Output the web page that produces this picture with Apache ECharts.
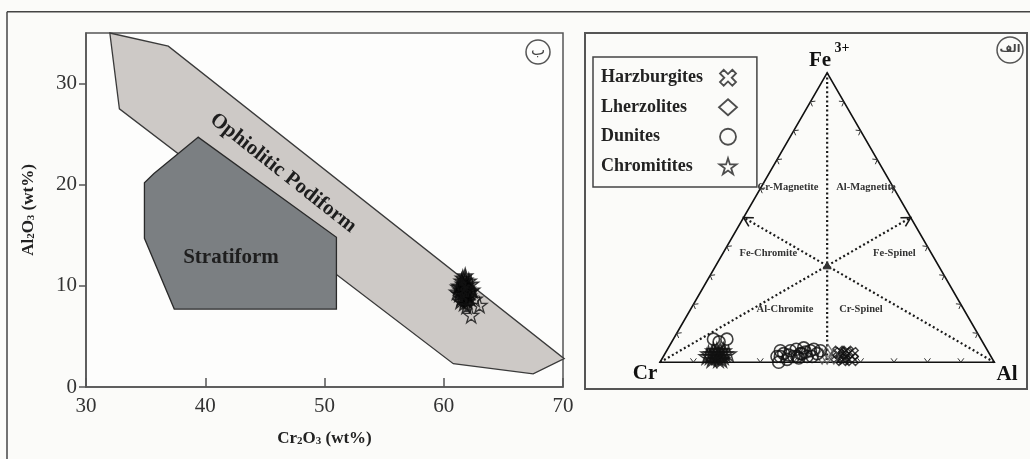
<!DOCTYPE html>
<html><head><meta charset="utf-8">
<script src="https://cdn.jsdelivr.net/npm/echarts@6/dist/echarts.min.js"></script>
<style>html,body{margin:0;padding:0;background:#fbfbf9}#c{width:1030px;height:459px}</style>
</head><body><div id="c"></div>
<script>
// ---------- DATA ----------
const xTicks = [30, 40, 50, 60, 70];
const yTicks = [0, 10, 20, 30];
// discrimination fields, Cr2O3 (wt%), Al2O3 (wt%)
const podiformPolygon = [[32, 35], [36.9, 33.7], [70.1, 2.8], [67.5, 1.3], [60.8, 2.3], [32.8, 27.5]];
const stratiformPolygon = [[39.4, 24.7], [35.7, 21.1], [34.9, 20.2], [34.9, 14.7], [37.4, 7.7], [51, 7.7], [51, 14.8]];
// chromitites, Cr2O3 vs Al2O3
const chromititesOxide = [
  [61.5,10.5],[61.8,10.6],[61.6,10.2],[61.9,10.1],[61.3,10.0],[61.7,9.8],[62.0,9.7],[61.4,9.6],
  [61.6,9.4],[61.9,9.3],[61.3,9.2],[61.7,9.0],[62.1,9.0],[61.5,8.8],[61.8,8.7],[61.4,8.5],
  [62.0,8.5],[61.7,8.3],[62.2,9.4],[61.6,10.8],[61.8,11.0],[61.2,9.9],[61.9,8.0],
  [62.3,10.2],[62.4,9.6],[62.2,8.8],[61.1,9.4],[62.1,10.5]
];
const chromititesOxideOutliers = [[63.0,8.1],[62.3,7.1],[62.6,8.7]];
// ternary Cr - Al - Fe3+ (percent: [Cr, Al, Fe3+])
const chromititesTernary = [
  [84,14,2],[83,15,2],[82,16,2],[81,17,2],[80,18,2],[82,15,3],[81,16,3],[80,17,3],[83,14,3],
  [84,13,3],[79,18,3],[82,14,4],[81,15,4],[80,16,4],[79,17,4],[85,13,2],[78,19,3],[82,17,1],
  [81,18,1],[84,15,1]
];
const dunitesTernary = [
  [80,12,8],[76,16,8],[78,14,7],
  [64,34,2],[62,34,4],[61.5,35.5,3],[61.5,37.5,1],[59,37,4],[59,39,2],[57,38.5,4.5],[56.5,40.5,3],
  [54.5,40.5,5],[55,43,2],[53,43,4],[51.75,43.75,4.5],[51.5,45.5,3],[64.5,35.5,0],[60.25,37.25,2.5],
  [57.75,40.75,1.5],[54.75,41.75,3.5],[53.5,44.5,2],[50,46,4],[63,35,2],[58,40,2],[56,41,3]
];
const lherzolitesTernary = [[49,49,2],[48,48.5,3.5],[50.5,47.5,2],[47,51,2]];
const harzburgitesTernary = [
  [46,52,2],[44.5,52.5,3],[44.25,54.25,1.5],[42.25,54.25,3.5],[42.5,55.5,2],[41,56,3],[45,54,1],[44.75,51.75,3.5],
  [43.5,54,2.5],[42,57,1]
];
const ternaryTicks = [10, 20, 30, 40, 60, 70, 80, 90];
const regionNames = ['Cr-Magnetite', 'Al-Magnetite', 'Fe-Chromite', 'Fe-Spinel', 'Al-Chromite', 'Cr-Spinel'];
const legendNames = ['Harzburgites', 'Lherzolites', 'Dunites', 'Chromitites'];

// ---------- HELPERS ----------
const H = Math.sqrt(3) / 2;
function tern(v) {
  const s = v[0] + v[1] + v[2];
  const a = v[1] / s, f = v[2] / s;
  return [a + f / 2, f * H];
}
const regionPos = [[0.383, 0.524], [0.616, 0.524], [0.324, 0.327], [0.701, 0.327], [0.374, 0.160], [0.601, 0.160]];

const serif = '"Liberation Serif","Times New Roman",serif';
const crossPath = 'path://M7.475,0.404L9.596,2.525L7.121,5L9.596,7.475L7.475,9.596L5,7.121L2.525,9.596L0.404,7.475L2.879,5L0.404,2.525L2.525,0.404L5,2.879Z';
const starPath = 'path://M50,0L61,35L98,35L68,57L79,91L50,70L21,91L32,57L2,35L39,35Z';

const chart = echarts.init(document.getElementById('c'));

function ternaryFrame(params, api) {
  const P = (x, y) => api.coord([x, y]);
  const A = P(0, 0), B = P(1, 0), C = P(0.5, H);
  const mB = P(0.5, 0), mL = P(0.25, H / 2), mR = P(0.75, H / 2), G = P(0.5, H / 3);
  const children = [];
  const dot = { stroke: '#1a1a1a', lineWidth: 2.2, lineDash: [2, 2.6], fill: null };
  children.push({ type: 'line', shape: { x1: C[0], y1: C[1], x2: mB[0], y2: mB[1] }, style: dot });
  children.push({ type: 'line', shape: { x1: A[0], y1: A[1], x2: mR[0], y2: mR[1] }, style: dot });
  children.push({ type: 'line', shape: { x1: B[0], y1: B[1], x2: mL[0], y2: mL[1] }, style: dot });
  function arrow(from, tip) {
    let dx = tip[0] - from[0], dy = tip[1] - from[1];
    const L = Math.hypot(dx, dy); dx /= L; dy /= L;
    const nx = -dy, ny = dx;
    return { type: 'polyline', shape: { points: [[tip[0] - 9 * dx + 5 * nx, tip[1] - 9 * dy + 5 * ny], tip, [tip[0] - 9 * dx - 5 * nx, tip[1] - 9 * dy - 5 * ny]] },
      style: { stroke: '#1a1a1a', lineWidth: 1.6, fill: null } };
  }
  children.push(arrow(A, mR));
  children.push(arrow(B, mL));
  children.push({ type: 'polygon', shape: { points: [[G[0], G[1] - 4], [G[0] - 4, G[1] + 3], [G[0] + 4, G[1] + 3]] }, style: { fill: '#333', stroke: '#333' } });
  children.push({ type: 'polygon', shape: { points: [A, B, C] }, style: { fill: null, stroke: '#111', lineWidth: 1.6 } });
  const sides = [[A, B, C], [A, C, B], [B, C, A]];
  sides.forEach(([p, q, o]) => {
    ternaryTicks.forEach(t => {
      const f = t / 100;
      const x = p[0] + (q[0] - p[0]) * f, y = p[1] + (q[1] - p[1]) * f;
      let ux = q[0] - p[0], uy = q[1] - p[1]; const L = Math.hypot(ux, uy); ux /= L; uy /= L;
      let nx = -uy, ny = ux;
      const cx = (p[0] + q[0] + o[0]) / 3, cy = (p[1] + q[1] + o[1]) / 3;
      if ((cx - x) * nx + (cy - y) * ny < 0) { nx = -nx; ny = -ny; }
      children.push({ type: 'polyline', shape: { points: [[x - 3 * ux + 4 * nx, y - 3 * uy + 4 * ny], [x, y], [x + 3 * ux + 4 * nx, y + 3 * uy + 4 * ny]] },
        style: { stroke: '#333', lineWidth: 1, fill: null } });
    });
  });
  regionNames.forEach((n, i) => {
    const p = P(regionPos[i][0], regionPos[i][1]);
    children.push({ type: 'text', x: p[0], y: p[1], style: { text: n, fill: '#333', fontFamily: serif, fontWeight: 'bold', fontSize: 10.5, align: 'center', verticalAlign: 'middle' } });
  });
  return { type: 'group', children };
}

const subRich = { a: { fontFamily: serif, fontWeight: 'bold', fontSize: 17, color: '#222', lineHeight: 18, verticalAlign: 'bottom' }, s: { fontFamily: serif, fontWeight: 'bold', fontSize: 11, color: '#222', lineHeight: 12, verticalAlign: 'bottom' } };

const option = {
  backgroundColor: '#fbfbf9',
  animation: false,
  grid: [
    { left: 86, top: 33, width: 477, height: 354, show: true, borderColor: '#555', borderWidth: 1.5, backgroundColor: '#fdfdfc', containLabel: false, outerBoundsMode: 'none' },
    { left: 660, top: 72.8, width: 334.3, height: 289.5, show: false, containLabel: false, outerBoundsMode: 'none' }
  ],
  xAxis: [
    { gridIndex: 0, type: 'value', min: 30, max: 70, interval: 10,
      name: '{a|Cr}{s|2}{a|O}{s|3}{a| (wt%)}', nameLocation: 'middle', nameGap: 42, nameTextStyle: { rich: subRich },
      axisLine: { lineStyle: { color: '#555', width: 1.5 } },
      axisTick: { inside: true, length: 9, lineStyle: { color: '#555', width: 1.5 } },
      axisLabel: { fontFamily: serif, fontSize: 21, color: '#333', margin: 9, customValues: xTicks },
      splitLine: { show: false } },
    { gridIndex: 1, type: 'value', min: 0, max: 1, show: false }
  ],
  yAxis: [
    { gridIndex: 0, type: 'value', min: 0, max: 35,
      name: '{a|Al}{s|2}{a|O}{s|3}{a| (wt%)}', nameLocation: 'middle', nameGap: 49, nameRotate: 90, nameTextStyle: { rich: subRich },
      axisLine: { show: true, lineStyle: { color: '#555', width: 1.5 } },
      axisTick: { show: true, length: 7, lineStyle: { color: '#555', width: 1.5 }, customValues: yTicks },
      axisLabel: { fontFamily: serif, fontSize: 21, color: '#333', margin: 9, customValues: yTicks },
      splitLine: { show: false } },
    { gridIndex: 1, type: 'value', min: 0, max: H, show: false }
  ],
  legend: {
    data: legendNames,
    orient: 'vertical', left: 593, top: 57, align: 'right',
    itemWidth: 18, itemHeight: 16, itemGap: 9.5,
    padding: [10.75, 19, 10.75, 8],
    borderColor: '#444', borderWidth: 1.5, borderRadius: 0,
    itemStyle: { borderColor: '#222', borderWidth: 1.8 },
    formatter: n => '{t|' + n + '}',
    textStyle: { lineHeight: 20, rich: { t: { fontFamily: serif, fontWeight: 'bold', fontSize: 18, color: '#222', width: 113, align: 'left', lineHeight: 20 } } },
    selectedMode: false
  },
  graphic: [
    { type: 'line', shape: { x1: 7, y1: 11.7, x2: 1030, y2: 11.7 }, style: { stroke: '#444', lineWidth: 1.5 }, silent: true },
    { type: 'line', shape: { x1: 7, y1: 11.7, x2: 7, y2: 459 }, style: { stroke: '#444', lineWidth: 1.5 }, silent: true },
    { type: 'rect', shape: { x: 585, y: 33, width: 442, height: 356 }, style: { fill: null, stroke: '#555', lineWidth: 2 }, silent: true, z: 0 },
    { type: 'text', x: 231, y: 258, style: { text: 'Stratiform', fontFamily: serif, fontWeight: 'bold', fontSize: 21, fill: '#1e1e1e', align: 'center', verticalAlign: 'middle' }, z: 10 },
    { type: 'text', x: 283, y: 173, rotation: -0.668, style: { text: 'Ophiolitic Podiform', fontFamily: serif, fontWeight: 'bold', fontSize: 21, fill: '#1e1e1e', align: 'center', verticalAlign: 'middle' }, z: 10 },
    { type: 'circle', shape: { cx: 538, cy: 52, r: 12 }, style: { fill: null, stroke: '#555', lineWidth: 1.5 }, z: 10 },
    { type: 'text', x: 538, y: 51, style: { text: 'ب', fontFamily: '"DejaVu Sans"', fontSize: 15, fill: '#444', align: 'center', verticalAlign: 'middle' }, z: 10 },
    { type: 'circle', shape: { cx: 1010, cy: 50, r: 13 }, style: { fill: null, stroke: '#555', lineWidth: 1.5 }, z: 10 },
    { type: 'text', x: 1010, y: 49, style: { text: 'الف', fontFamily: '"DejaVu Sans"', fontWeight: 'bold', fontSize: 11, fill: '#444', align: 'center', verticalAlign: 'middle' }, z: 10 },
    { type: 'text', x: 820, y: 61, style: { text: 'Fe', fontFamily: serif, fontWeight: 'bold', fontSize: 21, fill: '#111', align: 'center', verticalAlign: 'middle' }, z: 10 },
    { type: 'text', x: 842, y: 48, style: { text: '3+', fontFamily: serif, fontWeight: 'bold', fontSize: 14, fill: '#111', align: 'center', verticalAlign: 'middle' }, z: 10 },
    { type: 'text', x: 645, y: 374, style: { text: 'Cr', fontFamily: serif, fontWeight: 'bold', fontSize: 21, fill: '#111', align: 'center', verticalAlign: 'middle' }, z: 10 },
    { type: 'text', x: 1007, y: 375, style: { text: 'Al', fontFamily: serif, fontWeight: 'bold', fontSize: 21, fill: '#111', align: 'center', verticalAlign: 'middle' }, z: 10 }
  ],
  series: [
    { type: 'custom', xAxisIndex: 0, yAxisIndex: 0, data: [[0, 0]], silent: true, z: 1,
      renderItem: (params, api) => ({ type: 'group', children: [
        { type: 'polygon', shape: { points: podiformPolygon.map(v => api.coord(v)) }, style: { fill: '#cdc9c6', stroke: '#3a3a3a', lineWidth: 1.3 } },
        { type: 'polygon', shape: { points: stratiformPolygon.map(v => api.coord(v)) }, style: { fill: '#7b7f82', stroke: '#2a2a2a', lineWidth: 1.3 } }
      ] }) },
    { type: 'custom', xAxisIndex: 1, yAxisIndex: 1, data: [[0, 0]], silent: true, z: 1, renderItem: ternaryFrame },
    { name: 'Harzburgites', type: 'scatter', xAxisIndex: 1, yAxisIndex: 1, symbol: crossPath, symbolSize: 12,
      itemStyle: { color: 'rgba(255,255,255,0)', borderColor: '#111', borderWidth: 1.4 }, data: harzburgitesTernary.map(tern), z: 3 },
    { name: 'Lherzolites', type: 'scatter', xAxisIndex: 1, yAxisIndex: 1, symbol: 'diamond', symbolSize: [10, 15],
      itemStyle: { color: 'rgba(255,255,255,0)', borderColor: '#555', borderWidth: 1.4 }, data: lherzolitesTernary.map(tern), z: 3 },
    { name: 'Dunites', type: 'scatter', xAxisIndex: 1, yAxisIndex: 1, symbol: 'circle', symbolSize: 12,
      itemStyle: { color: 'rgba(255,255,255,0)', borderColor: '#111', borderWidth: 1.6 }, data: dunitesTernary.map(tern), z: 3 },
    { name: 'Chromitites', type: 'scatter', xAxisIndex: 1, yAxisIndex: 1, symbol: starPath, symbolSize: 15,
      itemStyle: { color: 'rgba(255,255,255,0)', borderColor: '#111', borderWidth: 1.5 }, data: chromititesTernary.map(tern), z: 3 },
    { name: 'Chromitites', type: 'scatter', xAxisIndex: 0, yAxisIndex: 0, symbol: starPath, symbolSize: 15,
      itemStyle: { color: 'rgba(0,0,0,0.55)', borderColor: '#111', borderWidth: 1.3 }, data: chromititesOxide, z: 3 },
    { name: 'Chromitites', type: 'scatter', xAxisIndex: 0, yAxisIndex: 0, symbol: starPath, symbolSize: 15,
      itemStyle: { color: 'rgba(255,255,255,0)', borderColor: '#111', borderWidth: 1.3 }, data: chromititesOxideOutliers, z: 2 }
  ]
};
chart.setOption(option);
</script>
</body></html>
